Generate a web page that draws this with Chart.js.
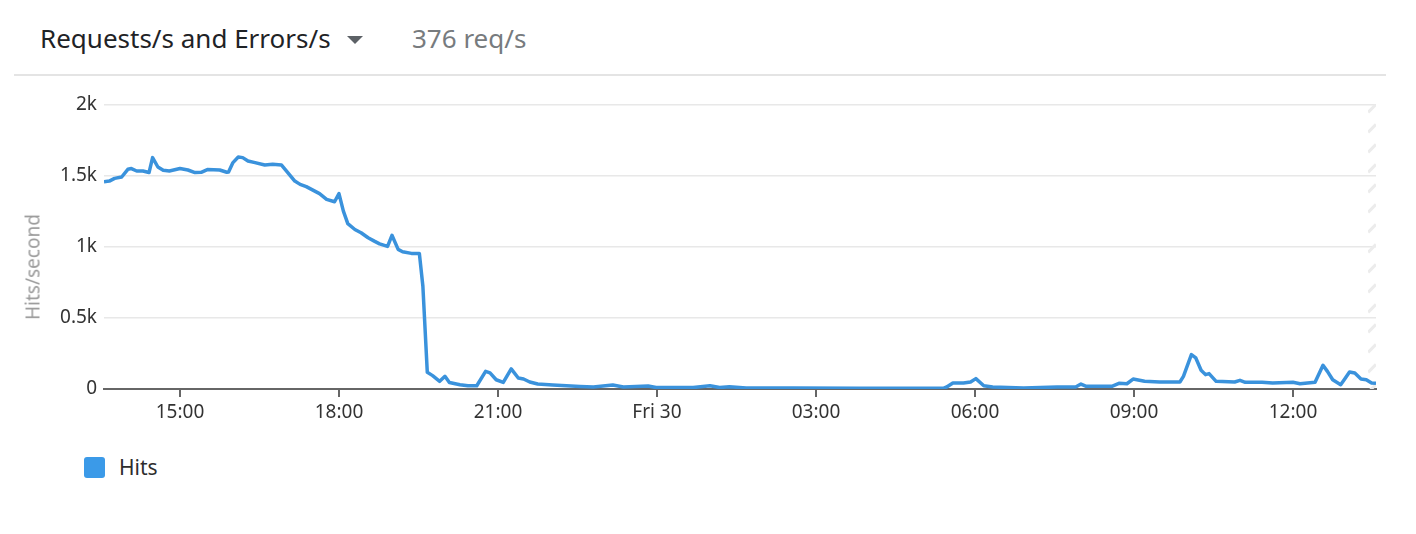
<!DOCTYPE html>
<html>
<head>
<meta charset="utf-8">
<script src="https://cdn.jsdelivr.net/npm/chart.js@4.4.0/dist/chart.umd.min.js"></script>
<style>
  body { margin: 0; background: #fff; font-family: 'Noto Sans', sans-serif; }
  #page { position: relative; width: 1416px; height: 534px; overflow: hidden; }
  .hdr { position: absolute; top: 25px; font-size: 26px; line-height: 1; white-space: nowrap; }
  #title { left: 40px; color: #1f2326; }
  #value { left: 412px; color: #777b7e; }
  #caret { position: absolute; left: 347px; top: 36px; width: 0; height: 0;
           border-left: 8px solid transparent; border-right: 8px solid transparent;
           border-top: 8px solid #5c6166; }
  #rule { position: absolute; left: 14px; top: 74px; width: 1372px; height: 2px; background: #e4e4e4; }
  #wrap { position: absolute; left: 22px; top: 86px; width: 1378px; height: 344px; }
  #ytitle { position: absolute; left: 33px; top: 267px; transform: translate(-50%, -50%) rotate(-90deg);
            font-size: 19px; color: #9a9a9a; white-space: nowrap; line-height: 1; }
  #legend { position: absolute; left: 84px; top: 457px; display: flex; align-items: center; }
  #legend .sw { width: 21px; height: 21px; border-radius: 3px; background: #3b9ae8; }
  #legend span { margin-left: 14px; font-size: 21px; color: #2d2d2d; line-height: 1; }
</style>
</head>
<body>
<div id="page">
  <div class="hdr" id="title">Requests/s and Errors/s</div>
  <div id="caret"></div>
  <div class="hdr" id="value">376 req/s</div>
  <div id="rule"></div>
  <div id="wrap"><canvas id="hitsChart"></canvas></div>
  <div id="ytitle">Hits/second</div>
  <div id="legend"><div class="sw"></div><span>Hits</span></div>
</div>
<script>
// Hits per second, Thu 13:34 -> Fri 13:34
const times = [
  '13:34', '13:40', '13:46', '13:54', '14:01', '14:05', '14:11', '14:18', '14:25', '14:29',
  '14:35', '14:41', '14:48', '15:00', '15:09', '15:17', '15:24', '15:31', '15:45', '15:53',
  '15:55', '16:00', '16:06', '16:11', '16:17', '16:25', '16:36', '16:45', '16:55', '16:59',
  '17:10', '17:16', '17:23', '17:31', '17:38', '17:46', '17:55', '18:00', '18:05', '18:10',
  '18:18', '18:25', '18:33', '18:40', '18:46', '18:55', '19:00', '19:07', '19:12', '19:22',
  '19:31', '19:35', '19:40', '19:46', '19:54', '20:00', '20:05', '20:17', '20:26', '20:36',
  '20:46', '20:51', '20:58', '21:06', '21:15', '21:23', '21:29', '21:36', '21:45', '22:02',
  '22:33', '22:48', '23:10', '23:22', '23:50', '23:59', '00:41', '01:00', '01:11', '01:22',
  '01:41', '02:34', '03:49', '05:24', '05:28', '05:35', '05:47', '05:55', '06:01', '06:10',
  '06:20', '06:55', '07:33', '07:54', '08:00', '08:06', '08:35', '08:43', '08:52', '08:59',
  '09:12', '09:29', '09:52', '09:56', '10:05', '10:10', '10:16', '10:21', '10:25', '10:33',
  '10:54', '11:00', '11:06', '11:25', '11:37', '12:00', '12:08', '12:25', '12:34', '12:39',
  '12:45', '12:54', '12:58', '13:04', '13:10', '13:17', '13:23', '13:29', '13:34'
];
const hits = [
  1457, 1461, 1480, 1490, 1544, 1549, 1532, 1532, 1521, 1626,
  1560, 1537, 1532, 1549, 1539, 1521, 1523, 1542, 1539, 1523,
  1525, 1591, 1630, 1626, 1602, 1591, 1574, 1579, 1574, 1544,
  1461, 1438, 1422, 1396, 1373, 1333, 1316, 1373, 1250, 1162,
  1121, 1098, 1063, 1039, 1020, 1002, 1080, 981, 965, 953,
  953, 722, 117, 94, 54, 89, 46, 30, 23, 23,
  124, 113, 65, 46, 141, 77, 70, 49, 35, 28,
  18, 14, 28, 14, 21, 10, 10, 23, 10, 16,
  7, 7, 5, 5, 14, 42, 42, 49, 73, 23,
  14, 7, 14, 14, 35, 19, 19, 40, 37, 70,
  54, 49, 49, 89, 242, 218, 132, 101, 108, 54,
  49, 61, 47, 47, 42, 47, 37, 47, 167, 124,
  65, 30, 65, 120, 112, 70, 65, 42, 40
];

const tickTimes = ['15:00', '18:00', '21:00', '00:00', '03:00', '06:00', '09:00', '12:00'];
const tickLabels = ['15:00', '18:00', '21:00', 'Fri 30', '03:00', '06:00', '09:00', '12:00'];
const yTicks = [0, 500, 1000, 1500, 2000];
const incompleteFrom = '13:25'; // hatched "partial data" strip (Fri)

// turn a sequence of HH:MM strings into minutes, rolling over midnight
function toMinutes(list, start = 0) {
  let day = 0, prev = -1;
  return list.map(t => {
    const [h, m] = t.split(':').map(Number);
    let v = h * 60 + m;
    if (v < prev) day++;
    prev = v;
    return start + v + day * 1440;
  });
}

const xs = toMinutes(times);
const tickXs = toMinutes(tickTimes);
const hatchX = toMinutes([incompleteFrom])[0] + 1440;

const hatchPlugin = {
  id: 'hatch',
  beforeDatasetsDraw(chart) {
    const { ctx, chartArea: a, scales: { x } } = chart;
    const x0 = x.getPixelForValue(hatchX);
    ctx.save();
    ctx.beginPath();
    ctx.rect(x0, a.top, a.right - x0, a.bottom - a.top);
    ctx.clip();
    ctx.strokeStyle = '#ececec';
    ctx.lineWidth = 3;
    ctx.beginPath();
    const w = a.right - x0;
    for (let y = a.top - 40; y < a.bottom + 40; y += 20) {
      ctx.moveTo(x0, y + w);
      ctx.lineTo(a.right, y);
    }
    ctx.stroke();
    ctx.restore();
  }
};

const font = { family: "'Noto Sans', sans-serif", size: 19 };

new Chart(document.getElementById('hitsChart'), {
  type: 'line',
  data: {
    datasets: [{
      label: 'Hits',
      data: xs.map((x, i) => ({ x, y: hits[i] })),
      borderColor: '#3a92dc',
      borderWidth: 3.5,
      borderJoinStyle: 'round',
      pointRadius: 0,
      tension: 0,
      fill: false
    }]
  },
  options: {
    responsive: true,
    maintainAspectRatio: false,
    animation: false,
    layout: { padding: { top: 10, right: 24, bottom: 0, left: 0 } },
    plugins: { legend: { display: false }, tooltip: { enabled: false } },
    scales: {
      x: {
        type: 'linear',
        min: xs[0],
        max: xs[xs.length - 1],
        afterBuildTicks: s => { s.ticks = tickXs.map(v => ({ value: v })); },
        afterFit: s => { s.height = 41; },
        ticks: {
          autoSkip: false,
          maxRotation: 0,
          padding: 4,
          color: '#333',
          font,
          callback: (v, i) => tickLabels[i]
        },
        grid: { drawOnChartArea: false, drawTicks: true, tickLength: 8, color: '#666', lineWidth: 2 },
        border: { display: true, color: '#666', width: 2 }
      },
      y: {
        min: 0,
        max: 2000,
        afterBuildTicks: s => { s.ticks = yTicks.map(v => ({ value: v })); },
        afterFit: s => { s.width = 82; },
        ticks: {
          padding: 7,
          color: '#333',
          font,
          callback: v => v === 0 ? '0' : (v / 1000) + 'k'
        },
        grid: { color: '#e8e8e8', lineWidth: 1.5, drawTicks: false },
        border: { display: false }
      }
    }
  },
  plugins: [hatchPlugin]
});
</script>
</body>
</html>
